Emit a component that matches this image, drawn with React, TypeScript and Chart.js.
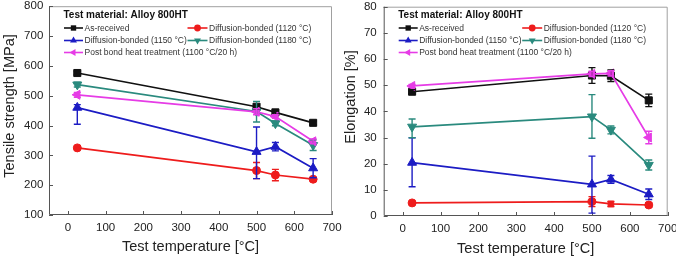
import React, { useEffect, useRef } from 'react';
import { Chart, registerables } from 'chart.js';

Chart.register(...registerables);

// ---------- data ----------
const testTemperatures = [25, 500, 550, 650];
const xTickValues = [0, 100, 200, 300, 400, 500, 600, 700];
const strengthTickValues = [100, 200, 300, 400, 500, 600, 700, 800];
const elongationTickValues = [0, 10, 20, 30, 40, 50, 60, 70, 80];

const legendTitle = 'Test material: Alloy 800HT';
const seriesLabels = [
  'As-received',
  'Diffusion-bonded (1120 °C)',
  'Diffusion-bonded (1150 °C)',
  'Diffusion-bonded (1180 °C)',
  'Post bond heat treatment (1100 °C/20 h)',
];
const seriesColors = ['#111111', '#ee1c1c', '#1c1cc4', '#2a8a7e', '#e63ce6'];
const seriesMarkers = ['rect', 'circle', 'triangle', 'triangle', 'triangle'];
const seriesMarkerRotation = [0, 0, 0, 180, 270];

// Tensile strength [MPa]
const strengthAsReceived = [576, 463, 444, 409];
const strength1120 = [325, 249, 234, 220];
const strength1150 = [460, 312, 329, 257];
const strength1180 = [537, 447, 407, 334];
const strengthPBHT = [503, 446, 430, 347];
// error bars [minus, plus]
const strengthErrAsReceived = [[6, 6], [8, 8], [6, 6], [6, 6]];
const strengthErr1120 = [[5, 5], [27, 27], [19, 19], [5, 5]];
const strengthErr1150 = [[56, 10], [90, 83], [14, 14], [32, 32]];
const strengthErr1180 = [[8, 8], [35, 34], [8, 8], [18, 18]];
const strengthErrPBHT = [[8, 8], [10, 10], [6, 6], [8, 8]];

// Elongation [%]
const elongAsReceived = [47.5, 53.7, 53.6, 44.2];
const elong1120 = [5.0, 5.5, 4.6, 4.2];
const elong1150 = [20.4, 12.1, 14.0, 8.3];
const elong1180 = [34.1, 38.0, 32.9, 19.5];
const elongPBHT = [49.7, 54.3, 54.5, 30.0];
const elongErrAsReceived = [[0.8, 0.8], [3, 3], [2.2, 2.2], [2.4, 2.4]];
const elongErr1120 = [[0.5, 0.5], [1.9, 1.9], [1, 1], [0.8, 0.8]];
const elongErr1150 = [[9.2, 9.5], [11, 10.8], [1.5, 1.5], [2, 2]];
const elongErr1180 = [[4.2, 3], [8.3, 8.4], [1.5, 1.5], [1.9, 1.9]];
const elongErrPBHT = [[0.6, 0.6], [1, 1], [1, 1], [2.4, 2.4]];

// ---------- styling ----------
const FONT = "'Liberation Sans', Arial, Helvetica, sans-serif";
const markerRadius = [5.0, 4.0, 5.2, 5.2, 5.2];
const legendMarkerRadius = [3.8, 3.4, 4.0, 4.0, 4.0];

function drawMarker(ctx: CanvasRenderingContext2D, style: string, rotationDeg: number, x: number, y: number, r: number) {
  ctx.beginPath();
  if (style === 'circle') {
    ctx.arc(x, y, r, 0, Math.PI * 2);
  } else if (style === 'rect') {
    const s = r * Math.SQRT1_2;
    ctx.rect(x - s, y - s, 2 * s, 2 * s);
  } else {
    let rad = (rotationDeg * Math.PI) / 180;
    ctx.moveTo(x + Math.sin(rad) * r, y - Math.cos(rad) * r);
    rad += (2 * Math.PI) / 3;
    ctx.lineTo(x + Math.sin(rad) * r, y - Math.cos(rad) * r);
    rad += (2 * Math.PI) / 3;
    ctx.lineTo(x + Math.sin(rad) * r, y - Math.cos(rad) * r);
    ctx.closePath();
  }
  ctx.fill();
}

interface PanelSpec {
  canvasWidth: number;
  values: number[][];
  errors: number[][][];
  yMin: number;
  yMax: number;
  yTicks: number[];
  yTitle: string;
  yTitleX: number;
  yTitleY: number;
  yAxisWidth: number;
  xAxisHeight: number;
  padTop: number;
  padRight: number;
  yTickPadding: number;
  xTitlePadBottom: number;
  pointStyles?: (string | string[])[];
}

function buildConfig(spec: PanelSpec): any {
  const datasets = spec.values.map((vals, i) => ({
    label: seriesLabels[i],
    data: vals.map((v, j) => ({ x: testTemperatures[j], y: v })),
    borderColor: seriesColors[i],
    backgroundColor: seriesColors[i],
    pointBackgroundColor: seriesColors[i],
    pointBorderColor: seriesColors[i],
    pointStyle: (spec.pointStyles && spec.pointStyles[i]) || seriesMarkers[i],
    pointRotation: seriesMarkerRotation[i],
    pointRadius: markerRadius[i],
    pointBorderWidth: 1,
    borderWidth: 1.7,
    tension: 0,
    showLine: true,
    order: 4 - i,
    errs: spec.errors[i],
  }));

  const framePlugin = {
    id: 'frameTicks',
    beforeDatasetsDraw(chart: any) {
      const { ctx, chartArea: a, scales } = chart;
      ctx.save();
      ctx.lineWidth = 1;
      ctx.strokeStyle = '#a0a0a0';
      ctx.beginPath();
      ctx.moveTo(a.left, a.top + 0.5);
      ctx.lineTo(a.right - 0.5, a.top + 0.5);
      ctx.lineTo(a.right - 0.5, a.bottom);
      ctx.stroke();
      ctx.strokeStyle = '#555555';
      ctx.beginPath();
      ctx.moveTo(a.left + 0.5, a.top);
      ctx.lineTo(a.left + 0.5, a.bottom - 0.5);
      ctx.lineTo(a.right, a.bottom - 0.5);
      ctx.stroke();
      ctx.beginPath();
      for (const v of xTickValues) {
        const px = Math.round(scales.x.getPixelForValue(v)) + 0.5;
        ctx.moveTo(px, a.bottom);
        ctx.lineTo(px, a.bottom - 4);
      }
      for (const v of spec.yTicks) {
        const py = Math.round(scales.y.getPixelForValue(v)) + 0.5;
        ctx.moveTo(a.left, py);
        ctx.lineTo(a.left + 4, py);
      }
      ctx.stroke();
      ctx.restore();
    },
  };

  const errorBarPlugin = {
    id: 'errorBars',
    afterDatasetsDraw(chart: any) {
      const { ctx, scales } = chart;
      ctx.save();
      ctx.lineWidth = 1.4;
      const n = chart.data.datasets.length;
      for (let i = 0; i < n; i++) {
        const ds = chart.data.datasets[i];
        ctx.strokeStyle = ds.borderColor;
        ds.data.forEach((p: any, j: number) => {
          const [minus, plus] = ds.errs[j];
          const px = scales.x.getPixelForValue(p.x);
          const yLo = scales.y.getPixelForValue(p.y - minus);
          const yHi = scales.y.getPixelForValue(p.y + plus);
          ctx.beginPath();
          ctx.moveTo(px, yLo);
          ctx.lineTo(px, yHi);
          ctx.moveTo(px - 3.5, yLo);
          ctx.lineTo(px + 3.5, yLo);
          ctx.moveTo(px - 3.5, yHi);
          ctx.lineTo(px + 3.5, yHi);
          ctx.stroke();
        });
      }
      ctx.restore();
    },
  };

  const legendPlugin = {
    id: 'insetLegend',
    afterDraw(chart: any) {
      const { ctx, chartArea: a } = chart;
      ctx.save();
      ctx.textBaseline = 'middle';
      ctx.textAlign = 'left';
      ctx.fillStyle = '#111111';
      ctx.font = `bold 10px ${FONT}`;
      ctx.fillText(legendTitle, a.left + 14.5, 15);
      const slots = [
        { col: 0, y: 28 },
        { col: 1, y: 28 },
        { col: 0, y: 40.5 },
        { col: 1, y: 40.5 },
        { col: 0, y: 52.5 },
      ];
      const cols = [
        { l0: 15, l1: 34, t: 35.5 },
        { l0: 138.5, l1: 158.5, t: 160 },
      ];
      ctx.font = `8.5px ${FONT}`;
      slots.forEach((s, i) => {
        const c = cols[s.col];
        ctx.strokeStyle = seriesColors[i];
        ctx.fillStyle = seriesColors[i];
        ctx.lineWidth = 1.6;
        ctx.beginPath();
        ctx.moveTo(a.left + c.l0, s.y);
        ctx.lineTo(a.left + c.l1, s.y);
        ctx.stroke();
        drawMarker(ctx, seriesMarkers[i], seriesMarkerRotation[i], a.left + (c.l0 + c.l1) / 2, s.y, legendMarkerRadius[i]);
        ctx.fillStyle = '#333333';
        ctx.fillText(seriesLabels[i], a.left + c.t, s.y + 0.5);
      });
      // y axis title
      ctx.save();
      ctx.translate(spec.yTitleX, spec.yTitleY);
      ctx.rotate(-Math.PI / 2);
      ctx.textAlign = 'center';
      ctx.textBaseline = 'middle';
      ctx.fillStyle = '#222222';
      ctx.font = `14.5px ${FONT}`;
      ctx.fillText(spec.yTitle, 0, 0);
      ctx.restore();
      ctx.restore();
    },
  };

  return {
    type: 'scatter',
    data: { datasets },
    options: {
      animation: false,
      responsive: false,
      maintainAspectRatio: false,
      layout: { padding: { top: spec.padTop, right: spec.padRight, left: 0, bottom: 0 } },
      plugins: { legend: { display: false }, tooltip: { enabled: false }, title: { display: false } },
      scales: {
        x: {
          type: 'linear',
          min: -50,
          max: 700,
          afterBuildTicks: (s: any) => {
            s.ticks = xTickValues.map((value) => ({ value }));
          },
          afterFit: (s: any) => {
            s.height = spec.xAxisHeight;
            s.paddingLeft = 0;
            s.paddingRight = 0;
          },
          grid: { display: false, drawTicks: false, tickLength: 0 },
          border: { display: false },
          ticks: { font: { family: FONT, size: 11.5 }, color: '#222222', padding: 5.5, maxRotation: 0, autoSkip: false },
          title: {
            display: true,
            text: 'Test temperature [°C]',
            font: { family: FONT, size: 14.5 },
            color: '#222222',
            padding: { top: 0, bottom: spec.xTitlePadBottom },
          },
        },
        y: {
          type: 'linear',
          min: spec.yMin,
          max: spec.yMax,
          afterBuildTicks: (s: any) => {
            s.ticks = spec.yTicks.map((value) => ({ value }));
          },
          afterFit: (s: any) => {
            s.width = spec.yAxisWidth;
            s.paddingTop = 0;
            s.paddingBottom = 0;
          },
          grid: { display: false, drawTicks: false, tickLength: 0 },
          border: { display: false },
          ticks: { font: { family: FONT, size: 11.5 }, color: '#222222', padding: spec.yTickPadding, autoSkip: false },
        },
      },
    },
    plugins: [framePlugin, errorBarPlugin, legendPlugin],
  };
}

const leftSpec: PanelSpec = {
  canvasWidth: 345,
  values: [strengthAsReceived, strength1120, strength1150, strength1180, strengthPBHT],
  errors: [strengthErrAsReceived, strengthErr1120, strengthErr1150, strengthErr1180, strengthErrPBHT],
  yMin: 100,
  yMax: 800,
  yTicks: strengthTickValues,
  yTitle: 'Tensile strength [MPa]',
  yTitleX: 10,
  yTitleY: 106,
  yAxisWidth: 49,
  xAxisHeight: 47,
  padTop: 5.5,
  padRight: 13,
  yTickPadding: 5.7,
  xTitlePadBottom: 6.6,
};

const rightSpec: PanelSpec = {
  canvasWidth: 338,
  values: [elongAsReceived, elong1120, elong1150, elong1180, elongPBHT],
  errors: [elongErrAsReceived, elongErr1120, elongErr1150, elongErr1180, elongErrPBHT],
  yMin: 0,
  yMax: 80,
  yTicks: elongationTickValues,
  yTitle: 'Elongation [%]',
  yTitleX: 13,
  yTitleY: 97,
  yAxisWidth: 45.7,
  xAxisHeight: 46,
  padTop: 6.7,
  padRight: 8.3,
  yTickPadding: 7,
  xTitlePadBottom: 4.6,
  pointStyles: [undefined as any, ['circle', 'circle', 'rect', 'circle'], undefined as any, undefined as any, undefined as any],
};

function Panel({ spec, left }: { spec: PanelSpec; left: number }) {
  const ref = useRef<HTMLCanvasElement | null>(null);
  useEffect(() => {
    if (!ref.current) return;
    const chart = new Chart(ref.current, buildConfig(spec));
    return () => chart.destroy();
  }, [spec]);
  return (
    <canvas
      ref={ref}
      width={spec.canvasWidth}
      height={262}
      style={{ position: 'absolute', left, top: 0, width: spec.canvasWidth, height: 262 }}
    />
  );
}

export default function App() {
  return (
    <div style={{ position: 'fixed', left: 0, top: 0, width: 676, height: 262, background: '#ffffff', overflow: 'hidden' }}>
      <Panel spec={leftSpec} left={0} />
      <Panel spec={rightSpec} left={338} />
    </div>
  );
}
